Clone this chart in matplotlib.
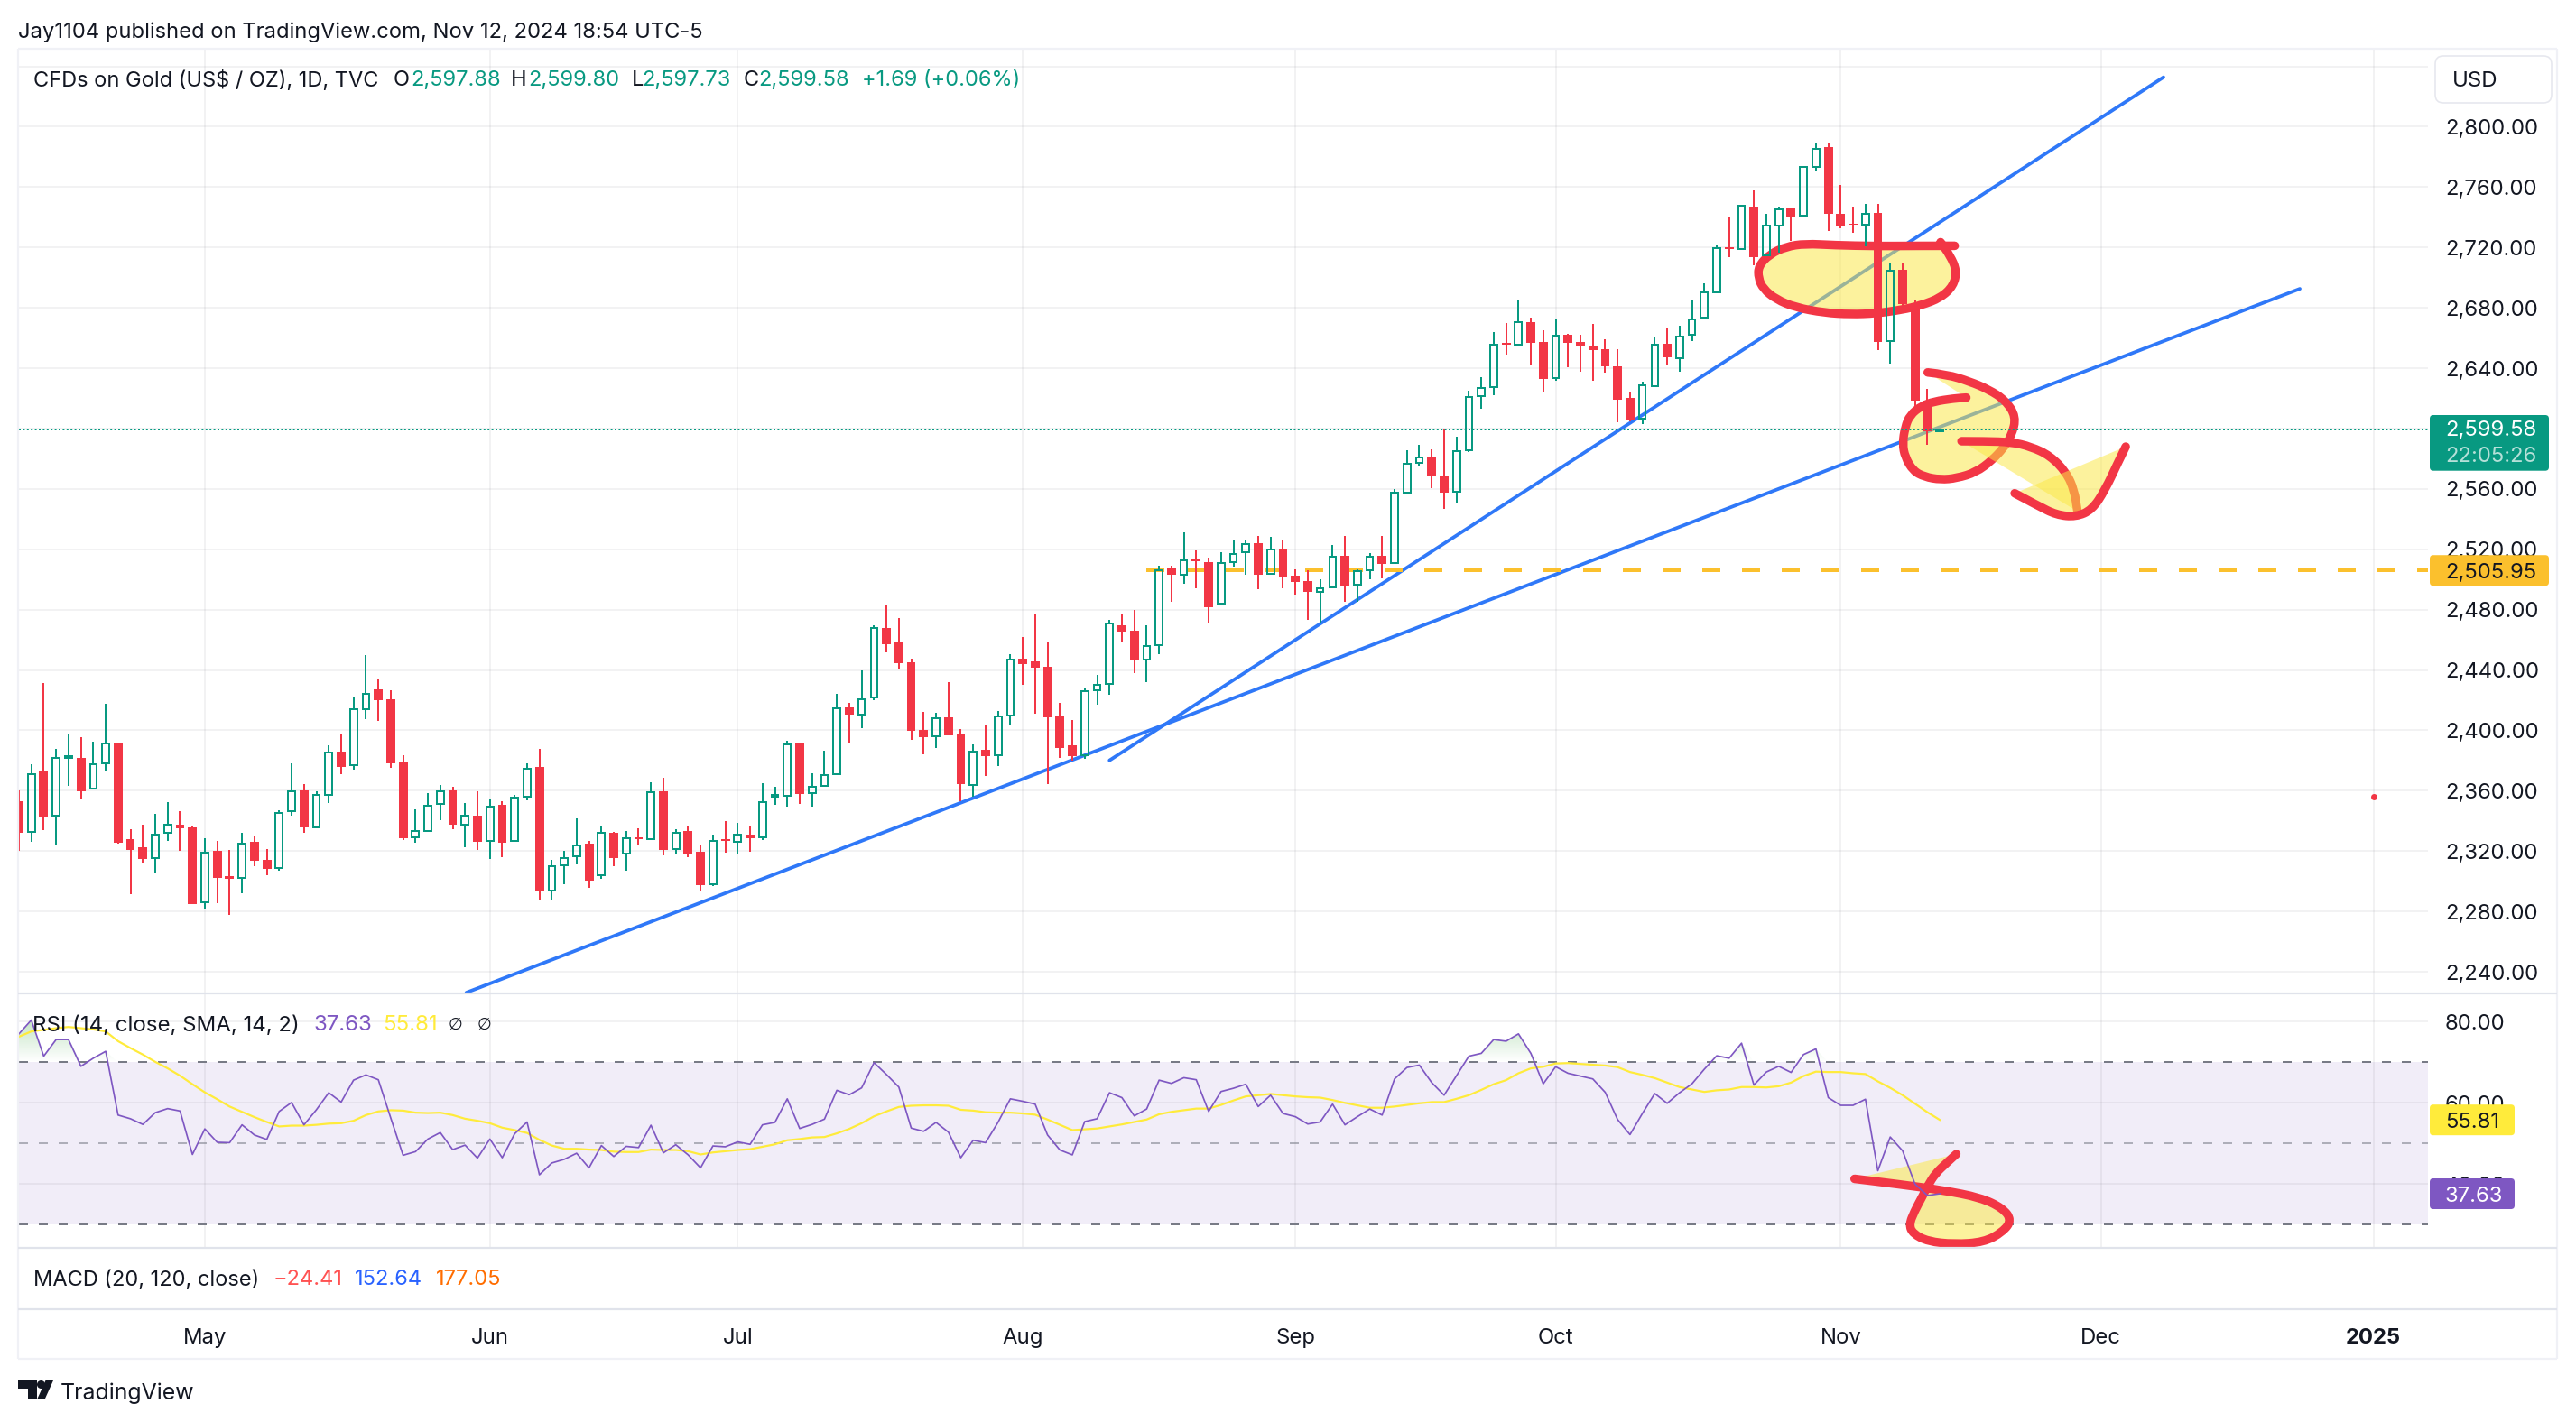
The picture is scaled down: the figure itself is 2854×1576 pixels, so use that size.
import numpy as np
import matplotlib
matplotlib.use('Agg')
import matplotlib.pyplot as plt
from matplotlib.path import Path
from matplotlib.patches import PathPatch, FancyBboxPatch, Polygon, Circle

# ===================================================================
# DATA
# ===================================================================

opens = [
    2353.0, 2332.5, 2372.5, 2343.2, 2381.9, 2381.5, 2361.2, 2378.1, 2391.7, 2327.7,
    2322.3, 2315.1, 2332.1, 2337.3, 2335.5, 2286.0, 2319.9, 2303.2, 2302.0, 2325.9,
    2313.9, 2308.6, 2346.4, 2360.0, 2335.5, 2357.0, 2385.7, 2376.7, 2413.8, 2426.9,
    2420.4, 2379.1, 2328.9, 2333.5, 2351.2, 2360.0, 2337.5, 2343.2, 2326.5, 2350.4,
    2326.5, 2355.8, 2375.5, 2293.8, 2310.6, 2316.5, 2324.7, 2303.8, 2331.9, 2318.1,
    2329.1, 2327.7, 2359.4, 2321.3, 2333.1, 2319.5, 2297.8, 2327.9, 2325.9, 2330.7,
    2328.9, 2356.2, 2356.6, 2391.1, 2358.2, 2363.2, 2370.7, 2415.0, 2410.4, 2421.6,
    2467.8, 2458.0, 2445.1, 2400.0, 2395.9, 2408.4, 2397.0, 2363.6, 2386.9, 2383.5,
    2409.6, 2447.3, 2445.5, 2441.9, 2409.0, 2389.9, 2383.7, 2426.3, 2430.7, 2469.4,
    2465.8, 2446.9, 2456.4, 2507.3, 2502.9, 2513.0, 2511.2, 2483.9, 2511.4, 2518.0,
    2523.8, 2503.5, 2519.6, 2502.3, 2498.7, 2491.9, 2494.5, 2515.4, 2496.3, 2505.9,
    2515.4, 2510.8, 2557.7, 2577.0, 2581.2, 2568.0, 2557.9, 2585.4, 2621.3, 2627.4,
    2656.7, 2655.3, 2670.3, 2657.1, 2633.2, 2662.1, 2657.1, 2654.7, 2652.4, 2641.0,
    2620.1, 2606.3, 2628.0, 2655.9, 2646.6, 2662.1, 2673.5, 2690.4, 2719.9, 2718.9,
    2747.0, 2714.7, 2734.5, 2746.4, 2741.0, 2773.3, 2786.5, 2742.2, 2735.7, 2734.9,
    2742.8, 2657.7, 2705.2, 2680.7, 2618.3, 2597.88,
]
highs = [
    2360.2, 2377.3, 2431.1, 2387.7, 2397.6, 2395.3, 2392.3, 2417.4, 2391.7, 2334.3,
    2337.5, 2344.4, 2352.2, 2346.2, 2336.3, 2328.3, 2326.7, 2320.5, 2331.9, 2329.5,
    2321.1, 2346.8, 2377.9, 2364.2, 2359.4, 2389.9, 2397.0, 2422.2, 2449.7, 2433.5,
    2426.3, 2383.3, 2347.4, 2358.2, 2363.6, 2362.6, 2351.6, 2359.4, 2354.6, 2352.8,
    2357.0, 2377.9, 2387.7, 2313.9, 2319.9, 2341.4, 2326.5, 2336.7, 2332.5, 2333.1,
    2334.9, 2365.4, 2368.4, 2334.3, 2336.7, 2323.5, 2330.7, 2339.7, 2338.5, 2336.7,
    2364.8, 2362.6, 2392.9, 2391.1, 2371.3, 2386.3, 2424.0, 2418.0, 2439.5, 2469.4,
    2483.1, 2474.2, 2447.3, 2412.0, 2411.4, 2431.9, 2400.6, 2390.5, 2403.0, 2412.6,
    2450.3, 2461.6, 2477.2, 2458.6, 2418.0, 2406.6, 2427.5, 2436.5, 2473.0, 2476.6,
    2479.6, 2469.4, 2508.9, 2509.3, 2531.0, 2519.0, 2514.2, 2517.8, 2526.2, 2525.6,
    2528.6, 2528.0, 2526.2, 2506.5, 2506.1, 2499.9, 2522.6, 2528.6, 2506.5, 2517.6,
    2528.6, 2559.7, 2585.4, 2589.0, 2586.0, 2599.1, 2594.4, 2624.9, 2633.8, 2663.7,
    2669.7, 2684.6, 2673.3, 2664.9, 2672.1, 2662.7, 2661.9, 2669.1, 2658.9, 2652.4,
    2623.7, 2630.8, 2660.7, 2666.1, 2667.9, 2684.6, 2696.0, 2721.7, 2739.6, 2748.0,
    2757.8, 2742.0, 2746.8, 2746.4, 2773.7, 2788.9, 2788.9, 2761.4, 2746.8, 2748.8,
    2748.8, 2709.8, 2709.2, 2685.4, 2626.0, 2599.80,
]
lows = [
    2319.9, 2326.3, 2333.9, 2324.5, 2363.4, 2354.8, 2361.2, 2372.7, 2324.9, 2291.6,
    2311.9, 2305.4, 2326.9, 2320.3, 2285.0, 2282.1, 2285.6, 2277.9, 2292.0, 2310.2,
    2304.0, 2307.2, 2343.6, 2332.3, 2335.5, 2352.0, 2371.1, 2374.1, 2407.6, 2406.2,
    2375.3, 2327.5, 2325.7, 2332.9, 2340.6, 2334.5, 2322.7, 2320.7, 2314.9, 2315.9,
    2326.5, 2353.8, 2287.4, 2288.0, 2298.2, 2311.3, 2295.6, 2301.8, 2310.2, 2307.2,
    2323.7, 2327.7, 2317.3, 2317.9, 2315.9, 2294.0, 2297.0, 2318.9, 2318.3, 2319.5,
    2327.5, 2350.8, 2349.6, 2351.4, 2349.6, 2362.8, 2370.7, 2391.3, 2401.6, 2420.2,
    2451.7, 2440.3, 2393.9, 2384.3, 2388.3, 2396.9, 2352.8, 2355.8, 2369.7, 2376.5,
    2404.0, 2430.1, 2411.2, 2364.4, 2381.7, 2379.7, 2381.3, 2417.2, 2423.8, 2458.2,
    2438.1, 2432.1, 2450.7, 2485.3, 2497.3, 2494.3, 2471.0, 2483.9, 2508.7, 2503.3,
    2493.7, 2503.5, 2494.3, 2490.1, 2473.4, 2471.4, 2493.9, 2485.3, 2485.3, 2500.3,
    2500.9, 2510.8, 2556.5, 2575.0, 2560.7, 2546.9, 2551.1, 2584.6, 2613.3, 2622.3,
    2649.2, 2654.5, 2642.6, 2624.4, 2631.8, 2640.8, 2637.8, 2631.8, 2637.2, 2604.3,
    2604.5, 2602.9, 2627.6, 2642.6, 2637.8, 2658.1, 2673.3, 2690.0, 2713.5, 2718.9,
    2708.4, 2714.5, 2716.7, 2724.1, 2739.6, 2770.3, 2730.9, 2732.7, 2729.9, 2720.5,
    2652.2, 2643.2, 2680.7, 2611.9, 2589.4, 2597.73,
]
closes = [
    2332.3, 2371.1, 2343.0, 2381.9, 2382.7, 2359.8, 2377.7, 2391.5, 2325.7, 2320.9,
    2314.9, 2331.1, 2337.7, 2335.3, 2285.0, 2319.1, 2302.4, 2301.8, 2325.1, 2313.7,
    2308.4, 2345.4, 2359.8, 2335.9, 2357.4, 2385.5, 2375.9, 2414.2, 2424.4, 2420.2,
    2378.3, 2328.7, 2333.5, 2350.2, 2359.8, 2337.7, 2343.4, 2326.3, 2349.6, 2325.7,
    2355.6, 2374.7, 2293.4, 2310.2, 2315.5, 2323.7, 2300.6, 2332.3, 2315.5, 2328.7,
    2328.1, 2359.2, 2320.9, 2332.3, 2318.5, 2297.6, 2326.9, 2326.9, 2330.9, 2328.7,
    2352.6, 2357.0, 2390.9, 2358.0, 2362.8, 2370.3, 2414.8, 2410.2, 2420.8, 2468.0,
    2457.2, 2444.7, 2399.8, 2395.7, 2408.2, 2396.9, 2364.6, 2386.1, 2383.1, 2409.4,
    2447.1, 2444.1, 2441.7, 2408.8, 2388.5, 2383.1, 2426.1, 2430.1, 2471.0, 2465.6,
    2446.5, 2456.0, 2506.3, 2503.3, 2512.8, 2512.2, 2481.4, 2511.0, 2517.0, 2523.6,
    2503.3, 2520.0, 2502.1, 2498.5, 2491.9, 2493.9, 2515.2, 2496.1, 2505.3, 2515.0,
    2510.5, 2557.7, 2576.8, 2581.0, 2568.5, 2557.7, 2585.2, 2620.9, 2627.0, 2655.7,
    2655.7, 2670.7, 2656.9, 2633.0, 2661.7, 2656.9, 2654.5, 2652.2, 2641.4, 2619.3,
    2606.1, 2628.6, 2655.7, 2647.4, 2661.1, 2672.5, 2690.4, 2719.7, 2719.1, 2747.4,
    2713.7, 2734.7, 2745.4, 2740.4, 2773.1, 2785.5, 2742.4, 2734.5, 2734.9, 2742.4,
    2657.5, 2704.6, 2682.2, 2618.7, 2597.9, 2599.58,
]
rsi = [
    77.0, 80.4, 71.5, 75.6, 75.6, 69.0, 71.0, 72.7, 57.0, 56.1,
    54.7, 57.6, 58.6, 58.0, 47.3, 53.6, 50.3, 50.2, 54.6, 52.1,
    51.0, 57.9, 60.1, 54.6, 58.3, 62.5, 60.2, 65.6, 66.9, 65.7,
    56.3, 47.1, 48.0, 51.1, 52.7, 48.5, 49.6, 46.4, 51.1, 46.5,
    52.4, 55.3, 42.3, 45.2, 46.1, 47.6, 44.0, 49.5, 46.8, 49.3,
    49.0, 54.5, 47.7, 49.7, 47.2, 44.0, 49.4, 49.2, 50.4, 49.8,
    54.6, 55.2, 61.0, 53.7, 54.7, 56.0, 63.1, 62.0, 63.7, 69.9,
    67.0, 63.9, 53.8, 53.0, 55.2, 52.8, 46.5, 50.8, 50.2, 55.2,
    61.0, 60.4, 59.7, 52.1, 48.4, 47.2, 55.4, 56.1, 62.5, 61.3,
    56.8, 58.5, 65.6, 64.8, 66.2, 65.7, 57.9, 62.8, 63.6, 64.6,
    59.1, 61.9, 57.4, 56.6, 54.8, 55.3, 59.7, 54.6, 56.6, 58.5,
    57.0, 65.9, 68.7, 69.3, 65.0, 61.9, 66.7, 71.5, 72.2, 75.6,
    75.2, 77.0, 72.2, 64.7, 68.9, 67.3, 66.6, 65.9, 62.6, 55.9,
    52.2, 57.4, 62.3, 59.9, 62.5, 64.7, 68.3, 71.6, 71.0, 74.7,
    64.4, 67.6, 69.0, 67.5, 71.9, 73.3, 61.3, 59.4, 59.4, 60.9,
    43.3, 51.6, 48.2, 40.0, 37.2, 37.63,
]
rsi_sma = [
    76.3, 77.6, 78.0, 78.4, 78.7, 78.4, 78.1, 77.6, 75.2, 73.5,
    71.9, 70.1, 68.5, 66.7, 64.6, 62.6, 60.9, 59.1, 57.8, 56.5,
    55.3, 54.2, 54.4, 54.4, 54.6, 54.9, 55.0, 55.6, 57.0, 57.9,
    58.2, 58.1, 57.6, 57.5, 57.6, 57.0, 56.1, 55.6, 55.0, 53.9,
    53.3, 52.6, 50.9, 49.5, 48.7, 48.7, 48.5, 48.4, 48.0, 47.9,
    47.9, 48.5, 48.4, 48.4, 48.1, 47.3, 47.8, 48.1, 48.4, 48.6,
    49.2, 49.8, 50.8, 51.1, 51.5, 51.6, 52.5, 53.6, 55.0, 56.7,
    57.9, 59.0, 59.3, 59.4, 59.4, 59.3, 58.3, 58.1, 57.7, 57.6,
    57.6, 57.4, 57.1, 55.9, 54.6, 53.3, 53.5, 53.7, 54.2, 54.7,
    55.3, 55.9, 57.2, 57.8, 58.2, 58.6, 58.6, 59.5, 60.6, 61.6,
    61.9, 62.2, 61.9, 61.6, 61.4, 61.3, 60.7, 60.0, 59.4, 58.8,
    58.8, 59.1, 59.5, 59.9, 60.2, 60.2, 61.0, 61.9, 63.2, 64.6,
    65.6, 67.3, 68.5, 68.9, 69.7, 69.8, 69.6, 69.4, 69.2, 68.8,
    67.6, 66.9, 66.1, 65.0, 63.9, 63.3, 62.7, 63.1, 63.3, 63.9,
    63.9, 63.8, 64.1, 65.0, 66.6, 67.7, 67.6, 67.6, 67.3, 67.1,
    65.3, 63.7, 61.9, 59.8, 57.7, 55.81,
]

price_ticks = [2240, 2280, 2320, 2360, 2400, 2440, 2480, 2520, 2560, 2600,
               2640, 2680, 2720, 2760, 2800]
rsi_ticks = [40, 60, 80]
month_bars = [15, 38, 58, 81, 103, 124, 147, 168, 190]
month_labels = ['May', 'Jun', 'Jul', 'Aug', 'Sep', 'Oct', 'Nov', 'Dec', '2025']

# Trend lines and freehand strokes, anchored as (bar, price) like the chart tool does
trend_steep = [(88.0, 2380.1), (173.05, 2832.8)]
trend_long = [(36.1, 2226.2), (184.05, 2692.6)]
level_start, level_price = 91, 2505.95
stray_dot = (190.05, 2356)

brush_oval = [
    (156.2, 2721.1), (152.98, 2721.1), (149.86, 2720.9), (146.48, 2721.5), (144.14, 2722.5),
    (142.58, 2720.5), (141.27, 2715.5), (140.36, 2707.6), (140.36, 2699.6), (140.75, 2692.6),
    (141.79, 2685.6), (143.35, 2680.3), (145.7, 2676.7), (147.78, 2675.7), (149.86, 2676.3),
    (151.94, 2678.7), (153.5, 2681.7), (155.06, 2686.6), (156.1, 2694.6), (156.36, 2704.6),
    (155.84, 2714.5), (155.06, 2723.5),
]
brush_loop = [
    (154.02, 2637.2), (155.58, 2635.8), (157.4, 2631.2), (158.96, 2625.8), (160.26, 2618.9),
    (161.17, 2607.9), (160.78, 2595.0), (160.13, 2587.0), (159.22, 2579.0), (157.92, 2571.0),
    (156.36, 2567.1), (155.06, 2566.1), (153.76, 2568.0), (152.85, 2572.0), (152.2, 2581.0),
    (151.99, 2590.0), (152.2, 2600.9), (152.59, 2608.9), (153.5, 2614.9), (154.54, 2617.9),
    (156.1, 2619.9), (157.14, 2620.5),
]
brush_arrow_a = [
    (156.75, 2591.6), (158.7, 2591.6), (160.78, 2591.0), (162.34, 2588.0), (163.9, 2582.0),
    (165.2, 2571.0), (165.85, 2559.1), (166.11, 2545.1),
]
brush_arrow_b = [
    (161.04, 2557.1), (162.86, 2549.1), (164.42, 2542.7), (165.98, 2541.5), (167.28, 2546.1),
    (168.32, 2559.1), (169.35, 2577.0), (170.0, 2588.0),
]
brush_rsi = [
    (156.33, 47.4), (155.54, 45.2), (154.64, 42.6), (154.03, 39.6), (153.55, 36.7),
    (152.95, 33.3), (152.52, 30.0), (152.83, 27.8), (154.03, 25.9), (156.15, 25.2),
    (158.56, 25.7), (160.07, 28.2), (160.8, 31.1), (160.07, 34.1), (158.26, 36.7),
    (155.24, 38.5), (151.62, 40.0), (148.12, 41.3),
]

# ===================================================================
# STYLE
# ===================================================================

W, H = 2854, 1576
UP = '#089981'
DOWN = '#f23645'
INK = '#131722'
BLUE = '#2f78f8'
AMBER = '#fbc02d'
PURPLE = '#7e57c2'
YELLOW = '#ffeb3b'
HILITE = '#fbe846'
GRID = '#2a2e39'
SEP = '#e0e3eb'
EDGE = '#f0f1f6'
PX = 0.72  # points per pixel at dpi 100

plt.rcParams['font.family'] = ['Inter', 'DejaVu Sans']


def pane(x0, y0, x1, y1):
    """Axes from image pixel corners (y measured from the top)."""
    ax = fig.add_axes([x0 / W, 1 - y1 / H, (x1 - x0) / W, (y1 - y0) / H])
    ax.patch.set_alpha(0)
    for s in ax.spines.values():
        s.set_visible(False)
    return ax


def style_grid(ax):
    ax.set_axisbelow(True)
    ax.grid(True, color=GRID, alpha=0.06, lw=2 * PX)
    ax.tick_params(length=0, labelbottom=False)
    ax.yaxis.tick_right()
    ax.tick_params(axis='y', pad=19 * PX, labelsize=17.2, labelcolor=INK)
    ax.set_xticks(month_bars)


def brush(ax, pts, z):
    """Freehand stroke: translucent yellow fill with the red outline on top of it."""
    pts = np.array(pts)
    verts = [pts[0]]
    codes = [Path.MOVETO]
    for i in range(1, len(pts) - 1):
        verts += [pts[i], (pts[i] + pts[i + 1]) / 2]
        codes += [Path.CURVE3, Path.CURVE3]
    verts.append(pts[-1])
    codes.append(Path.LINETO)
    path = Path(verts, codes)
    ax.add_patch(PathPatch(path, fc=HILITE, ec='none', alpha=0.53, zorder=z))
    ax.add_patch(PathPatch(path, fc='none', ec=DOWN, lw=9.5 * PX, capstyle='round',
                           joinstyle='round', zorder=z + 0.1))


fig = plt.figure(figsize=(W / 100, H / 100), dpi=100, facecolor='white')

# ===================================================================
# PRICE PANE
# ===================================================================

ax = pane(20.7, 54, 2690, 1100)
bars = np.arange(len(closes))
x_left, x_right = -0.02, 194.39
ax.set_xlim(x_left, x_right)
ax.set_ylim(2226.25, 2851.7)

o, h, l, c = map(np.array, (opens, highs, lows, closes))
up = c >= o
tops = np.maximum(o, c)
bots = np.minimum(o, c)

ax.vlines(bars[up], tops[up], h[up], color=UP, lw=2 * PX, zorder=5)
ax.vlines(bars[up], l[up], bots[up], color=UP, lw=2 * PX, zorder=5)
ax.vlines(bars[~up], l[~up], h[~up], color=DOWN, lw=2 * PX, zorder=5)
ax.bar(bars[up], (tops - bots)[up], bottom=bots[up], width=0.56, fc='none', ec=UP,
       lw=2 * PX, zorder=5)
ax.bar(bars[~up], (tops - bots)[~up], bottom=bots[~up], width=0.72, color=DOWN, lw=0, zorder=5)

for line in (trend_steep, trend_long):
    ax.plot(*zip(*line), color=BLUE, lw=3.8 * PX, solid_capstyle='round', zorder=1.5)
ax.plot([level_start, x_right], [level_price, level_price], color=AMBER, lw=4 * PX,
        linestyle=(0, (5, 6)), dash_capstyle='butt', zorder=1.6)
ax.axhline(closes[-1], color=UP, lw=2 * PX, linestyle=(0, (1, 1.2)), zorder=6)
ax.plot(*stray_dot, 'o', color=DOWN, ms=5, mew=0, zorder=6)

brush(ax, brush_oval, 2)
brush(ax, brush_loop, 2.2)
brush(ax, brush_arrow_a, 2.4)
brush(ax, brush_arrow_b, 2.6)

style_grid(ax)
ax.set_yticks(price_ticks + [2840])
ax.set_yticklabels([f'{p:,.2f}' for p in price_ticks] + [''])

# ===================================================================
# RSI PANE
# ===================================================================

ax_rsi = pane(20.7, 1101, 2690, 1383)
ax_rsi.set_xlim(x_left, x_right)
ax_rsi.set_ylim(24.3, 86.96)
ax_rsi.axhspan(30, 70, color=PURPLE, alpha=0.1, lw=0, zorder=0.2)
for level, alpha in ((70, 1), (50, 0.55), (30, 1)):
    ax_rsi.axhline(level, color='#787b86', alpha=alpha, lw=2 * PX,
                   linestyle=(0, (5, 6)), dash_capstyle='butt', zorder=1)

# overbought area fades out toward the 70 line
clip = ax_rsi.fill_between(bars, 70, np.maximum(rsi, 70), fc='none', ec='none')
shade = np.zeros((64, 2, 4))
shade[..., :3] = matplotlib.colors.to_rgb('#4caf50')
shade[..., 3] = np.linspace(0.35, 0, 64)[:, None]
im = ax_rsi.imshow(shade, extent=[x_left, x_right, 70, 81], aspect='auto', zorder=1,
                   interpolation='bilinear')
im.set_clip_path(clip.get_paths()[0], transform=ax_rsi.transData)
ax_rsi.set_xlim(x_left, x_right)
ax_rsi.set_ylim(24.3, 86.96)

brush(ax_rsi, brush_rsi, 2)
ax_rsi.plot(bars, rsi_sma, color=YELLOW, lw=2.2 * PX, zorder=4)
ax_rsi.plot(bars, rsi, color=PURPLE, lw=1.7 * PX, zorder=5)

style_grid(ax_rsi)
ax_rsi.set_yticks(rsi_ticks)
ax_rsi.set_yticklabels([f'{v:.2f}' for v in rsi_ticks])

# ===================================================================
# TIME AXIS
# ===================================================================

ax_time = pane(20.7, 1451, 2690, 1506)
ax_time.set_xlim(x_left, x_right)
ax_time.set_ylim(0, 1)
ax_time.set_xticks([])
ax_time.set_yticks([])
for bar, label_text in zip(month_bars, month_labels):
    ax_time.text(bar, 0.47, label_text, ha='center', va='center_baseline', fontsize=17.2, color=INK,
                 fontweight='bold' if label_text == '2025' else 'normal')

# ===================================================================
# OVERLAY: frame, legends, price tags, logo (image pixels)
# ===================================================================

ov = fig.add_axes([0, 0, 1, 1], zorder=10)
ov.set_xlim(0, W)
ov.set_ylim(H, 0)
ov.axis('off')

for x in (20, 2833):
    ov.plot([x, x], [54, 1506], color=EDGE, lw=2.2 * PX, solid_capstyle='butt')
for y in (54, 1506):
    ov.plot([20, 2833], [y, y], color=EDGE, lw=2.2 * PX, solid_capstyle='butt')
for y in (1101, 1383, 1451):
    ov.plot([20, 2833], [y, y], color=SEP, lw=2.2 * PX, solid_capstyle='butt')


def label(x, y, s, color=INK, size=17.2, **kw):
    ov.text(x, y, s, color=color, fontsize=size, ha='left', va='center_baseline', **kw)


def tag(x1, y0, y1, color):
    ov.add_patch(FancyBboxPatch((2692, y0), x1 - 2692, y1 - y0, boxstyle='round,pad=0,rounding_size=4',
                                fc=color, ec='none', zorder=3))


def pixel_y(axes, value):
    return H - axes.transData.transform((0, value))[1]


label(20, 33, 'Jay1104 published on TradingView.com, Nov 12, 2024 18:54 UTC-5', size=17.1)
label(37, 86, 'CFDs on Gold (US$ / OZ), 1D, TVC', size=17)
for x, s in ((436, 'O'), (566, 'H'), (700, 'L'), (824, 'C')):
    label(x, 86, s, size=17)
for x, s in ((455, f'{opens[-1]:,.2f}'), (585, f'{highs[-1]:,.2f}'), (711.5, f'{lows[-1]:,.2f}'),
             (840, f'{closes[-1]:,.2f}'), (955, '+1.69 (+0.06%)')):
    label(x, 86, s, color=UP, size=17)

label(36, 1134, 'RSI (14, close, SMA, 14, 2)', size=17.3)
label(347.6, 1134, f'{rsi[-1]:.2f}', color=PURPLE, size=17.3)
label(424, 1134, f'{rsi_sma[-1]:.2f}', color=YELLOW, size=17.3)
for x in (497, 529):
    ov.text(x, 1134, '\u2205', color=INK, fontsize=13, family='DejaVu Sans', ha='left', va='center_baseline')

label(36.6, 1416, 'MACD (20, 120, close)', size=17)
label(302.7, 1416, '\u221224.41', color='#ff5252', size=17)
label(393, 1416, '152.64', color='#2962ff', size=17)
label(483, 1416, '177.05', color='#ff6d00', size=17)

# USD scale button
ov.add_patch(FancyBboxPatch((2698, 62), 129, 52, boxstyle='round,pad=0,rounding_size=9',
                            fc='white', ec='#e6e7ee', lw=1.6 * PX, zorder=3))
ov.text(2717, 87, 'USD', color=INK, fontsize=17.2, va='center_baseline', zorder=4)

# last value tags on the scales
py = pixel_y(ax, closes[-1])
tag(2824, 460, 521.7, UP)
ov.text(2709, py - 1, f'{closes[-1]:,.2f}', color='white', fontsize=17.2, va='center_baseline', zorder=4)
ov.text(2709, 503.5, '22:05:26', color='#b5e0d8', fontsize=17.2, va='center_baseline', zorder=4)
py = pixel_y(ax, level_price)
tag(2824, py - 17, py + 17, AMBER)
ov.text(2709, py, f'{level_price:,.2f}', color=INK, fontsize=17.2, va='center_baseline', zorder=4)
py = pixel_y(ax_rsi, rsi_sma[-1])
tag(2786, py - 17, py + 17, YELLOW)
ov.text(2709, py, f'{rsi_sma[-1]:.2f}', color=INK, fontsize=17.2, va='center_baseline', zorder=4)
py = pixel_y(ax_rsi, rsi[-1])
tag(2786, py - 17, py + 17, PURPLE)
ov.text(2709, py, f'{rsi[-1]:.2f}', color='white', fontsize=17.2, va='center_baseline', zorder=4)

# TradingView mark
ov.add_patch(Polygon([(20, 1530), (41, 1530), (41, 1550), (31, 1550), (31, 1539), (20, 1539)], fc=INK, ec='none'))
ov.add_patch(Circle((45.5, 1534.5), 4.5, fc=INK, ec='none'))
ov.add_patch(Polygon([(50.5, 1530), (59, 1530), (50, 1550), (41.5, 1550)], fc=INK, ec='none'))
label(67, 1542, 'TradingView', size=17.9)

fig.savefig('out.png', dpi=100, facecolor='white')
